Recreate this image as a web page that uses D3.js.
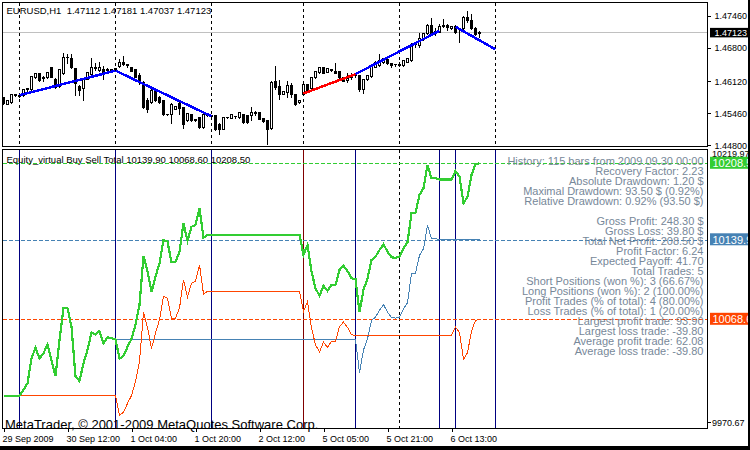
<!DOCTYPE html>
<html><head><meta charset="utf-8">
<script src="https://cdn.jsdelivr.net/npm/d3@7"></script>
<style>body{margin:0;background:#fff}svg{display:block}text{font-family:"Liberation Sans",Arial,sans-serif}</style>
</head><body><svg id="c" width="750" height="450"></svg>
<script>
// ---------- DATA ----------
const symbolTitle = "EURUSD,H1  1.47112 1.47181 1.47037 1.47123";
const equityTitle = "Equity_virtual Buy Sell Total 10139.90 10068.60 10208.50";
const copyright = "MetaTrader, \u00A9 2001-2009 MetaQuotes Software Corp.";

const candleOpen = [1.45796,1.45659,1.45693,1.45844,1.45838,1.45831,1.45948,1.45948,1.46195,1.46278,
1.46181,1.46195,1.46415,1.46174,1.46016,1.46278,1.46621,1.46587,1.46381,1.46016,
1.45989,1.46174,1.46264,1.46381,1.46346,1.46360,1.46346,1.46367,1.46381,1.46429,
1.46518,1.46470,1.46415,1.46360,1.46243,1.46106,1.45728,1.45693,1.45934,1.45796,
1.45728,1.45453,1.45453,1.45556,1.45673,1.45590,1.45315,1.45453,1.45336,1.45384,
1.45178,1.45418,1.45418,1.45418,1.45246,1.45143,1.45384,1.45370,1.45411,1.45384,
1.45453,1.45418,1.45418,1.45480,1.45487,1.45370,1.45315,1.45164,1.46119,1.46016,
1.45865,1.45899,1.46037,1.45851,1.45686,1.45865,1.46058,1.45989,1.46195,1.46312,
1.46401,1.46312,1.46360,1.46333,1.46319,1.46195,1.46140,1.46195,1.46236,1.46243,
1.45968,1.46154,1.46223,1.46415,1.46449,1.46518,1.46566,1.46484,1.46463,1.46456,
1.46449,1.46518,1.46553,1.46876,1.46862,1.46999,1.47103,1.47274,1.47158,1.47137,
1.47254,1.47268,1.47206,1.47254,1.47185,1.47206,1.47446,1.47378,1.47206,1.47112];
const candleHigh = [1.45810,1.45741,1.45879,1.45872,1.45865,1.45968,1.46003,1.46243,1.46312,1.46291,
1.46236,1.46326,1.46429,1.46195,1.46374,1.46724,1.46690,1.46704,1.46415,1.46071,
1.46209,1.46333,1.46608,1.46518,1.46539,1.46449,1.46401,1.46394,1.46415,1.46587,
1.46656,1.46498,1.46429,1.46381,1.46312,1.46140,1.45796,1.46003,1.45968,1.45831,
1.45762,1.45466,1.45693,1.45618,1.45728,1.45604,1.45480,1.45466,1.45370,1.45411,
1.45466,1.45466,1.45439,1.45453,1.45281,1.45398,1.45411,1.45453,1.45432,1.45494,
1.45466,1.45453,1.45604,1.45521,1.45501,1.45384,1.45349,1.46140,1.46449,1.46154,
1.45934,1.46140,1.46106,1.45865,1.45755,1.46071,1.46085,1.46223,1.46346,1.46429,
1.46429,1.46394,1.46381,1.46518,1.46346,1.46209,1.46312,1.46312,1.46278,1.46264,
1.46174,1.46257,1.46463,1.46553,1.46690,1.46608,1.46656,1.46518,1.46498,1.46532,
1.46566,1.46608,1.46931,1.46931,1.47137,1.47137,1.47309,1.47446,1.47240,1.47309,
1.47412,1.47309,1.47268,1.47295,1.47240,1.47481,1.47584,1.47515,1.47254,1.47181];
const candleLow = [1.45659,1.45645,1.45673,1.45824,1.45796,1.45817,1.45920,1.45934,1.46181,1.46126,
1.46126,1.46181,1.46195,1.45989,1.46003,1.46264,1.46484,1.46381,1.45831,1.45831,
1.45741,1.46161,1.46243,1.46346,1.46333,1.46174,1.46312,1.46319,1.46333,1.46415,
1.46449,1.46401,1.46319,1.46195,1.46071,1.45576,1.45487,1.45673,1.45714,1.45673,
1.45418,1.45425,1.45260,1.45542,1.45453,1.45164,1.45301,1.45301,1.45301,1.45164,
1.45164,1.45404,1.45398,1.45109,1.45040,1.45129,1.45363,1.45356,1.45370,1.45370,
1.45267,1.45260,1.45315,1.45418,1.45336,1.45288,1.44834,1.45143,1.45968,1.45762,
1.45851,1.45796,1.45796,1.45624,1.45673,1.45851,1.45899,1.45968,1.46181,1.46291,
1.46278,1.46298,1.46319,1.46278,1.46140,1.46113,1.46106,1.46174,1.46209,1.45920,
1.45879,1.46140,1.46209,1.46401,1.46429,1.46484,1.46470,1.46415,1.46436,1.46429,
1.46436,1.46504,1.46539,1.46828,1.46828,1.46965,1.47089,1.47089,1.47068,1.47130,
1.47240,1.47171,1.47192,1.47103,1.46931,1.47171,1.47343,1.47185,1.47068,1.47037];
const candleClose = [1.45673,1.45728,1.45865,1.45858,1.45824,1.45948,1.45975,1.46223,1.46291,1.46140,
1.46209,1.46312,1.46209,1.46003,1.46360,1.46621,1.46608,1.46415,1.46085,1.45934,
1.46174,1.46312,1.46415,1.46401,1.46415,1.46291,1.46374,1.46346,1.46346,1.46518,
1.46470,1.46449,1.46333,1.46209,1.46106,1.45590,1.45556,1.45934,1.45728,1.45693,
1.45453,1.45439,1.45659,1.45604,1.45576,1.45246,1.45466,1.45315,1.45322,1.45178,
1.45453,1.45453,1.45411,1.45143,1.45143,1.45384,1.45391,1.45439,1.45398,1.45480,
1.45281,1.45281,1.45487,1.45459,1.45349,1.45301,1.45143,1.46106,1.46003,1.45865,
1.45920,1.46037,1.45865,1.45659,1.45741,1.46058,1.45920,1.46195,1.46333,1.46415,
1.46291,1.46381,1.46339,1.46291,1.46195,1.46126,1.46181,1.46243,1.46257,1.45948,
1.46161,1.46243,1.46449,1.46518,1.46553,1.46587,1.46498,1.46456,1.46477,1.46477,
1.46553,1.46587,1.46862,1.46903,1.46999,1.47103,1.47274,1.47116,1.47103,1.47254,
1.47274,1.47240,1.47254,1.47137,1.47199,1.47433,1.47378,1.47206,1.47089,1.47123];

const lastPrice = 1.47123;
const priceTicks = [1.47460, 1.46800, 1.46120, 1.45460, 1.44800];

// trades drawn on the price chart
const tradeOpenBar   = [4, 28, 75, 88, 113];
const tradeCloseBar  = [28, 52, 88, 109, 123];
const tradeOpenPrice = [1.45830, 1.46336, 1.45866, 1.46264, 1.47239];
const tradeClosePrice= [1.46336, 1.45397, 1.46264, 1.47157, 1.46773];
const tradeColor     = ["#0000ff", "#0000ff", "#ff0000", "#0000ff", "#0000ff"];

// day separators and trade markers (bar indices)
const daySeparatorBars = [4, 28, 52, 75, 99, 123];
const tradeMarkerBars  = [4, 28, 52, 75, 88, 109, 113, 123];
const tradeMarkerColor = ["#000080","#000080","#000080","#800000","#000080","#000080","#000080","#000080"];

// time axis
const timeLabelBars = [0, 16, 32, 48, 64, 80, 96, 112];
const timeLabels = ["29 Sep 2009","30 Sep 12:00","1 Oct 04:00","1 Oct 20:00","2 Oct 12:00","5 Oct 05:00","5 Oct 21:00","6 Oct 13:00"];

// equity series (per bar)
const totalEquity = [10000,10000,10000,10000,10000,10005.2,10011.2,10033.6,10043.1,10033.6,
10038.1,10046.2,10032.1,10017.7,10050.0,10078.5,10078.5,10062.0,10017.1,10013.3,
10029.1,10041.1,10056.6,10055.1,10058.1,10047.1,10052.5,10051.6,10050.6,10033.4,
10035.7,10043.8,10050.9,10063.5,10081.4,10125.4,10111.9,10093.1,10106.8,10118.8,
10139.7,10138.2,10119.7,10120.3,10129.2,10154.7,10139.1,10151.6,10153.2,10168.1,
10141.8,10144.2,10144.5,10144.5,10144.5,10144.5,10144.5,10144.5,10144.5,10144.5,
10144.5,10144.5,10144.5,10144.5,10144.5,10144.5,10144.5,10144.5,10144.5,10144.5,
10144.5,10144.5,10144.5,10144.5,10144.5,10126.3,10135.2,10111.3,10096.4,10089.8,
10098.7,10094.0,10099.4,10099.4,10112.8,10116.7,10111.9,10105.4,10104.7,10074.9,
10095.2,10105.1,10121.8,10124.7,10130.7,10135.9,10129.2,10124.2,10123.8,10124.5,
10132.3,10137.6,10163.7,10164.2,10180.1,10186.1,10207.0,10195.0,10195.0,10194.0,
10194.0,10194.0,10194.0,10201.6,10196.5,10172.6,10178.5,10198.0,10207.6,10208.5];
const buyEquity = [10000,10000,10000,10000,10000,10005.2,10011.2,10033.6,10043.1,10033.6,
10038.1,10046.2,10032.1,10017.7,10050.0,10078.5,10078.5,10062.0,10017.1,10013.3,
10029.1,10041.1,10056.6,10055.1,10058.1,10047.1,10052.5,10051.6,10050.6,10050.6,
10050.6,10050.6,10050.6,10050.6,10050.6,10050.6,10050.6,10050.6,10050.6,10050.6,
10050.6,10050.6,10050.6,10050.6,10050.6,10050.6,10050.6,10050.6,10050.6,10050.6,
10050.6,10050.6,10050.6,10050.6,10050.6,10050.6,10050.6,10050.6,10050.6,10050.6,
10050.6,10050.6,10050.6,10050.6,10050.6,10050.6,10050.6,10050.6,10050.6,10050.6,
10050.6,10050.6,10050.6,10050.6,10050.6,10050.6,10050.6,10050.6,10050.6,10050.6,
10050.6,10050.6,10050.6,10050.6,10050.6,10050.6,10050.6,10050.6,10050.6,10020.8,
10041.1,10051.0,10067.7,10070.6,10076.6,10081.8,10075.1,10070.1,10069.7,10070.4,
10078.2,10083.5,10109.6,10110.1,10126.0,10132.0,10152.9,10140.9,10140.9,10139.9,
10139.9,10139.9,10139.9,10139.9,10139.9,10139.9,10139.9,10139.9,10139.9,10139.9];
const sellEquity = [10000,10000,10000,10000,10000,10000,10000,10000,10000,10000,
10000,10000,10000,10000,10000,10000,10000,10000,10000,10000,
10000,10000,10000,10000,10000,10000,10000,10000,10000,9982.8,
9985.1,9993.2,10000.3,10012.9,10030.8,10074.8,10061.3,10042.5,10056.2,10068.2,
10089.1,10087.6,10069.1,10069.7,10078.6,10104.1,10088.5,10101.0,10102.6,10117.5,
10091.2,10093.6,10093.9,10093.9,10093.9,10093.9,10093.9,10093.9,10093.9,10093.9,
10093.9,10093.9,10093.9,10093.9,10093.9,10093.9,10093.9,10093.9,10093.9,10093.9,
10093.9,10093.9,10093.9,10093.9,10093.9,10075.7,10084.6,10060.7,10045.8,10039.2,
10048.1,10043.4,10048.8,10048.8,10062.2,10066.1,10061.3,10054.8,10054.1,10054.1,
10054.1,10054.1,10054.1,10054.1,10054.1,10054.1,10054.1,10054.1,10054.1,10054.1,
10054.1,10054.1,10054.1,10054.1,10054.1,10054.1,10054.1,10054.1,10054.1,10054.1,
10054.1,10054.1,10054.1,10061.7,10056.6,10032.7,10038.6,10058.1,10067.7,10068.6];
const equityMax = 10219.97, equityMin = 9970.67;
const finalTotal = 10208.5, finalBuy = 10139.9, finalSell = 10068.6;

const statsLines = ["History: 115 bars from 2009.09.30 00:00","Recovery Factor: 2.23","Absolute Drawdown: 1.20 $",
"Maximal Drawdown: 93.50 $ (0.92%)","Relative Drawdown: 0.92% (93.50 $)","",
"Gross Profit: 248.30 $","Gross Loss: 39.80 $","Total Net Profit: 208.50 $","Profit Factor: 6.24",
"Expected Payoff: 41.70","Total Trades: 5","Short Positions (won %): 3 (66.67%)","Long Positions (won %): 2 (100.00%)",
"Profit Trades (% of total): 4 (80.00%)","Loss Trades (% of total): 1 (20.00%)","Largest profit trade: 93.90",
"Largest loss trade: -39.80","Average profit trade: 62.08","Average loss trade: -39.80"];

// ---------- LAYOUT ----------
const svg = d3.select("#c");
const L = 2.5, R = 707.5, pTop = 2.5, pBot = 146.5, eTop = 149.5, eBot = 428.5;
const GREEN = "#32cd32", BLUE = "#4682b4", ORANGE = "#ff4500";

const x = d3.scaleLinear().domain([0, 1]).range([3.5, 7.5]);
const yP = d3.scaleLinear().domain([1.44800, 1.47460]).range([145.3, 16]);
const yE = d3.scaleLinear().domain([equityMin, equityMax]).range([eBot, 150.5]);

svg.append("rect").attr("width", 750).attr("height", 450).attr("fill", "#fff");
const defs = svg.append("defs");
defs.append("clipPath").attr("id", "clipP").append("rect").attr("x", L).attr("y", pTop).attr("width", R - L).attr("height", pBot - pTop);
defs.append("clipPath").attr("id", "clipE").append("rect").attr("x", L).attr("y", eTop).attr("width", R - L).attr("height", eBot - eTop);

// ---------- PRICE PANEL ----------
const pg = svg.append("g").attr("clip-path", "url(#clipP)").attr("shape-rendering", "crispEdges");
pg.append("line").attr("x1", L).attr("x2", R).attr("y1", Math.round(yP(lastPrice)) + 0.5).attr("y2", Math.round(yP(lastPrice)) + 0.5)
  .attr("stroke", "#c0c0c0");
pg.selectAll("line.sep").data(daySeparatorBars).join("line").attr("class", "sep")
  .attr("x1", d => x(d)).attr("x2", d => x(d)).attr("y1", pTop).attr("y2", pBot)
  .attr("stroke", "#000").attr("stroke-dasharray", "3,3");

const bars = d3.range(candleOpen.length).map(i => ({ i, o: candleOpen[i], h: candleHigh[i], l: candleLow[i], c: candleClose[i] }));
pg.selectAll("line.wick").data(bars).join("line").attr("class", "wick")
  .attr("x1", d => x(d.i)).attr("x2", d => x(d.i))
  .attr("y1", d => Math.round(yP(d.h)) + 0.5).attr("y2", d => Math.round(yP(d.l)) + 0.5).attr("stroke", "#000");
pg.selectAll("rect.body").data(bars).join("rect").attr("class", "body")
  .attr("x", d => x(d.i) - 1).attr("width", 2)
  .attr("y", d => Math.round(yP(Math.max(d.o, d.c))) + 0.5)
  .attr("height", d => Math.max(0.001, Math.round(yP(Math.min(d.o, d.c))) - Math.round(yP(Math.max(d.o, d.c)))))
  .attr("fill", d => d.c > d.o ? "#fff" : "#000").attr("stroke", "#000");

const trades = tradeOpenBar.map((b, i) => ({ b0: b, b1: tradeCloseBar[i], p0: tradeOpenPrice[i], p1: tradeClosePrice[i], col: tradeColor[i] }));
pg.selectAll("line.trade").data(trades).join("line").attr("class", "trade")
  .attr("x1", d => x(d.b0)).attr("x2", d => x(d.b1)).attr("y1", d => yP(d.p0)).attr("y2", d => yP(d.p1))
  .attr("stroke", d => d.col).attr("stroke-width", 2.5);

svg.append("text").attr("x", 6.5).attr("y", 14).attr("font-size", 9.5).attr("fill", "#000").attr("xml:space", "preserve").text(symbolTitle);

// ---------- EQUITY PANEL ----------
const eg = svg.append("g").attr("clip-path", "url(#clipE)").attr("shape-rendering", "crispEdges");
eg.selectAll("line.sep").data(daySeparatorBars).join("line").attr("class", "sep")
  .attr("x1", d => x(d)).attr("x2", d => x(d)).attr("y1", eTop).attr("y2", eBot)
  .attr("stroke", "#000").attr("stroke-dasharray", "3,3");
eg.selectAll("line.mark").data(tradeMarkerBars).join("line").attr("class", "mark")
  .attr("x1", d => x(d)).attr("x2", d => x(d)).attr("y1", eTop).attr("y2", eBot)
  .attr("stroke", (d, i) => tradeMarkerColor[i]);

const levels = [{ v: finalTotal, c: GREEN }, { v: finalBuy, c: BLUE }, { v: finalSell, c: ORANGE }];
eg.selectAll("line.lvl").data(levels).join("line").attr("class", "lvl")
  .attr("x1", L).attr("x2", R).attr("y1", d => Math.round(yE(d.v)) + 0.5).attr("y2", d => Math.round(yE(d.v)) + 0.5)
  .attr("stroke", d => d.c).attr("stroke-dasharray", "4,2");

eg.append("g").selectAll("text").data(statsLines).join("text")
  .attr("x", 703.5).attr("y", (d, i) => 164.5 + 10 * i).attr("text-anchor", "end")
  .attr("font-size", 11).attr("fill", "#778899").text(d => d);

const line = d3.line().x((d, i) => x(i)).y(d => yE(d));
eg.append("path").datum(buyEquity).attr("d", line).attr("fill", "none").attr("stroke", BLUE).attr("stroke-width", 1);
eg.append("path").datum(sellEquity).attr("d", line).attr("fill", "none").attr("stroke", ORANGE).attr("stroke-width", 1);
eg.append("path").datum(totalEquity).attr("d", line).attr("fill", "none").attr("stroke", GREEN).attr("stroke-width", 2.2);

svg.append("text").attr("x", 6.5).attr("y", 163.3).attr("font-size", 9.5).attr("fill", "#000").text(equityTitle);

// ---------- FRAMES ----------
svg.append("g").attr("shape-rendering", "crispEdges").selectAll("rect").data([[pTop, pBot], [eTop, eBot]]).join("rect")
  .attr("x", L).attr("y", d => d[0]).attr("width", R - L).attr("height", d => d[1] - d[0])
  .attr("fill", "none").attr("stroke", "#000");

// ---------- AXES ----------
const pAxis = d3.axisRight(yP).tickValues(priceTicks).tickFormat(d3.format(".5f")).tickSize(3).tickPadding(4);
const gp = svg.append("g").attr("transform", `translate(${R},0)`).call(pAxis);
gp.select(".domain").remove();
gp.selectAll("text").attr("font-size", 9).attr("font-family", "Liberation Sans, Arial, sans-serif").attr("fill", "#000");
gp.selectAll("line").attr("stroke", "#000").attr("shape-rendering", "crispEdges");

// current price box
const yLast = yP(lastPrice);
svg.append("rect").attr("x", 710).attr("y", yLast - 4.5).attr("width", 40).attr("height", 9.5).attr("fill", "#000");
svg.append("text").attr("x", 714.5).attr("y", yLast + 3.5).attr("font-size", 9).attr("fill", "#fff").text(d3.format(".5f")(lastPrice));

// equity axis min/max
svg.append("text").attr("x", 712).attr("y", yE(equityMax) + 6.5).attr("font-size", 9).attr("fill", "#000").text(d3.format(".2f")(equityMax));
svg.append("text").attr("x", 712).attr("y", yE(equityMin) - 2.5).attr("font-size", 9).attr("fill", "#000").text(d3.format(".2f")(equityMin));
svg.append("line").attr("x1", R).attr("x2", R + 3).attr("y1", yE(equityMin) - 6).attr("y2", yE(equityMin) - 6).attr("stroke", "#000").attr("shape-rendering", "crispEdges");

// value boxes
const boxes = svg.append("g").selectAll("g").data(levels).join("g");
boxes.append("rect").attr("x", 710).attr("y", d => yE(d.v) - 6.5).attr("width", 40).attr("height", 12).attr("fill", d => d.c);
boxes.append("text").attr("x", 712.5).attr("y", d => yE(d.v) + 4).attr("font-size", 11).attr("fill", "#fff").text(d => d3.format(".1f")(d.v));

// time axis
const tAxis = d3.axisBottom(x).tickValues(timeLabelBars).tickFormat((d, i) => timeLabels[i]).tickSize(3).tickSizeOuter(0);
const gt = svg.append("g").attr("transform", `translate(0,${eBot})`).call(tAxis);
gt.select(".domain").remove();
gt.selectAll("line").attr("stroke", "#000").attr("shape-rendering", "crispEdges");
gt.selectAll("text").attr("text-anchor", "start").attr("dx", -1.5).attr("y", 13).attr("dy", 0)
  .attr("font-size", 9).attr("font-family", "Liberation Sans, Arial, sans-serif").attr("fill", "#000");

// copyright
svg.append("text").attr("x", 5).attr("y", 429).attr("font-size", 13).attr("fill", "#000").text(copyright);

// outer black edges
svg.append("rect").attr("x", 748).attr("y", 0).attr("width", 2).attr("height", 450).attr("fill", "#000");
svg.append("rect").attr("x", 0).attr("y", 446).attr("width", 750).attr("height", 4).attr("fill", "#000");
</script></body></html>
